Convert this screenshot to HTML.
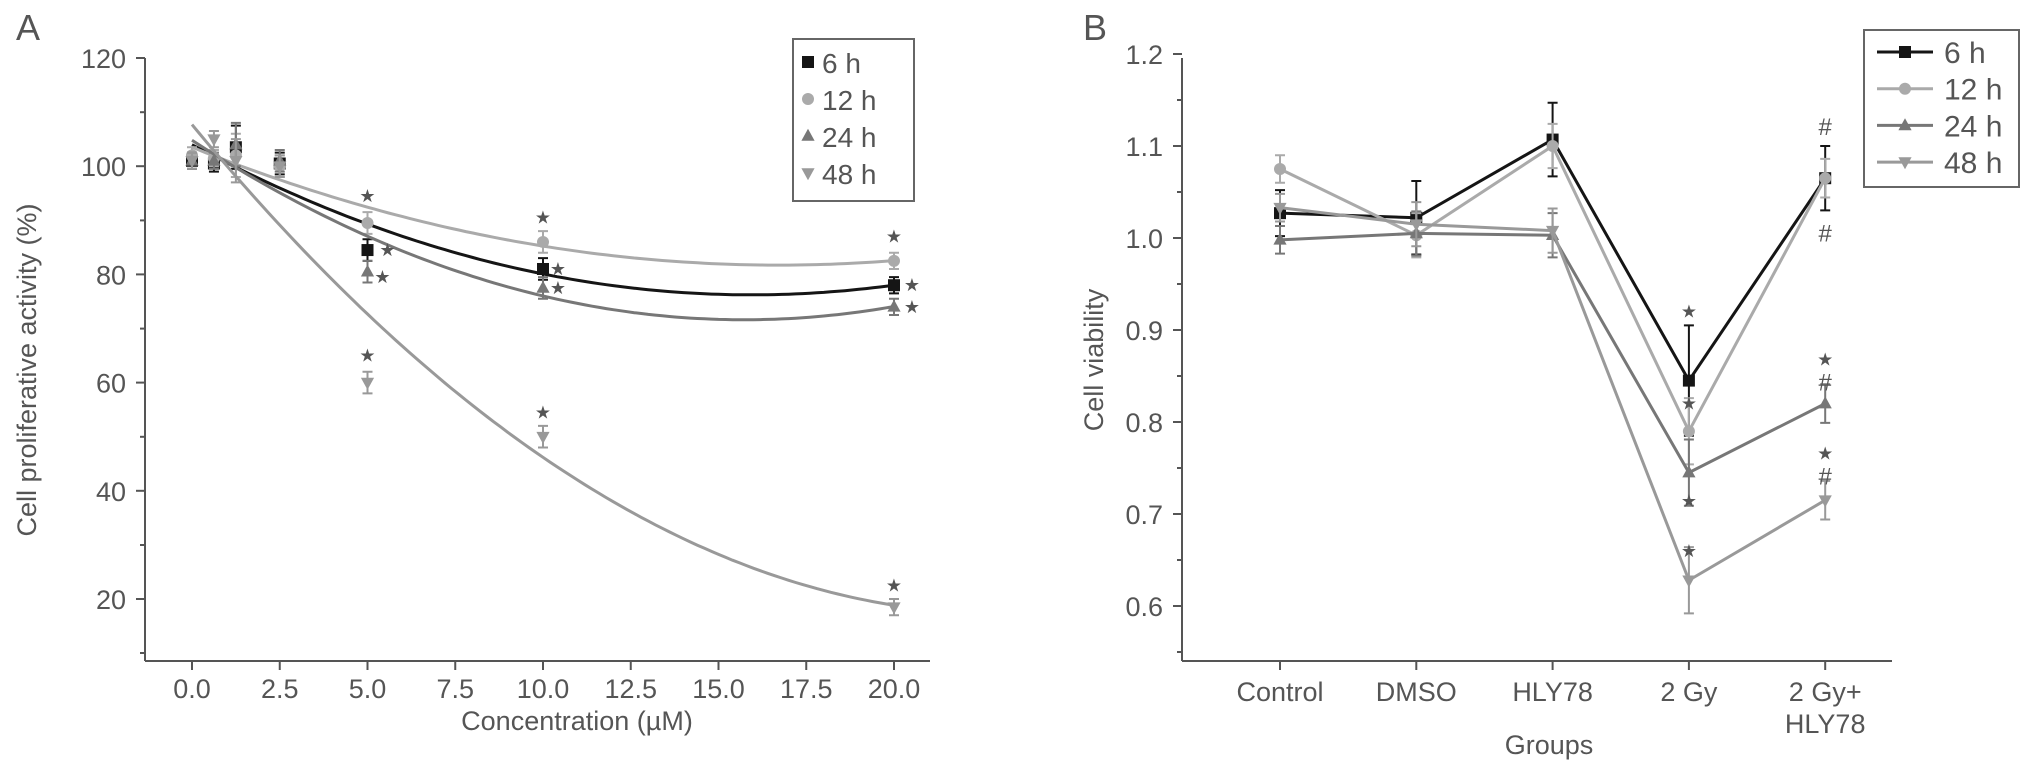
<!DOCTYPE html>
<html><head><meta charset="utf-8"><style>
body{margin:0;background:#fff;width:2032px;height:777px;overflow:hidden}
svg text{font-family:"Liberation Sans","DejaVu Sans",sans-serif;fill:#555}
</style></head><body>
<svg id="c" width="2032" height="777" xmlns="http://www.w3.org/2000/svg"></svg>
<script>
const concX=[0,0.625,1.25,2.5,5,10,20];
const a6=[101,100.5,103.5,100.5,84.5,81,78];
const a12=[102,101.5,102,100,89.5,86,82.5];
const a24=[101,101,104,101,80.5,77.5,74];
const a48=[101,105,101,100,60,50,18.5];
const aErr=[1.5,1.5,4,2,2,2,1.5];
const aXTicks=[0,2.5,5,7.5,10,12.5,15,17.5,20];
const aYTicks=[20,40,60,80,100,120];
const groups=["Control","DMSO","HLY78","2 Gy","2 Gy+HLY78"];
const b6=[1.027,1.022,1.107,0.845,1.065];
const b12=[1.075,1.003,1.100,0.790,1.065];
const b24=[0.998,1.005,1.003,0.745,0.820];
const b48=[1.033,1.015,1.008,0.628,0.715];
const bErr=[0.025,0.04,0.04,0.06,0.035];
const bYTicks=[0.6,0.7,0.8,0.9,1.0,1.1,1.2];
const series=["6 h","12 h","24 h","48 h"];
const cols=["#151515","#aaaaaa","#777777","#999999"];
const shapes=["sq","ci","tu","td"];

const S=document.getElementById('c');const NS="http://www.w3.org/2000/svg";
function el(t,at,p){const e=document.createElementNS(NS,t);for(const k in at)e.setAttribute(k,at[k]);(p||S).appendChild(e);return e;}
function txt(s,x,y,sz,anc,p){const e=el('text',{x:x,y:y,'font-size':sz,'text-anchor':anc||'middle'},p);e.textContent=s;return e;}
function star(x,y,p){const t=txt('\u2605',x,y+6,18,'middle',p);t.setAttribute('fill','#333');t.setAttribute('font-family','DejaVu Sans');return t;}
function hash(x,y,p){const t=txt('#',x,y+9,24,'middle',p);t.setAttribute('fill','#555');return t;}
function marker(sh,x,y,c,r,p){
 if(sh=='sq')return el('rect',{x:x-r,y:y-r,width:2*r,height:2*r,fill:c},p);
 if(sh=='ci')return el('circle',{cx:x,cy:y,r:r,fill:c},p);
 if(sh=='tu')return el('polygon',{points:`${x},${y-r*1.2} ${x-r*1.1},${y+r*0.8} ${x+r*1.1},${y+r*0.8}`,fill:c},p);
 return el('polygon',{points:`${x},${y+r*1.2} ${x-r*1.1},${y-r*0.8} ${x+r*1.1},${y-r*0.8}`,fill:c},p);
}
const ax='#555';
// ---- Panel A
const ax0=192,ax20=894;const AX=v=>ax0+(ax20-ax0)*v/20;
const AY=v=>599-(v-20)*5.41;
const gA=el('g',{},S);
txt('A',28,40,36,'middle',gA).setAttribute('fill','#222');
el('line',{x1:145,y1:58,x2:145,y2:661,stroke:ax,'stroke-width':2},gA);
el('line',{x1:145,y1:661,x2:930,y2:661,stroke:ax,'stroke-width':2},gA);
aYTicks.forEach(v=>{const y=AY(v);el('line',{x1:136,y1:y,x2:145,y2:y,stroke:ax,'stroke-width':2},gA);
 if(v<120)el('line',{x1:140,y1:y-54,x2:145,y2:y-54,stroke:ax,'stroke-width':2},gA);
 const t=txt(String(v),126,y+10,27,'end',gA);});
el('line',{x1:140,y1:AY(20)+54,x2:145,y2:AY(20)+54,stroke:ax,'stroke-width':2},gA);
aXTicks.forEach(v=>{const x=AX(v);el('line',{x1:x,y1:661,x2:x,y2:670,stroke:ax,'stroke-width':2},gA);
 const t=txt(v.toFixed(1),x,698,27,'middle',gA);});
let t=txt('Concentration (\u00b5M)',577,730,27,'middle',gA);
t=txt('Cell proliferative activity (%)',0,0,27,'middle',gA);t.setAttribute('transform','translate(36,370) rotate(-90)');

function quadFit(xs,ys){let n=xs.length,s=[0,0,0,0,0],r=[0,0,0];
 for(let i=0;i<n;i++){const x=xs[i];for(let k=0;k<5;k++)s[k]+=Math.pow(x,k);for(let k=0;k<3;k++)r[k]+=ys[i]*Math.pow(x,k);}
 const M=[[s[0],s[1],s[2],r[0]],[s[1],s[2],s[3],r[1]],[s[2],s[3],s[4],r[2]]];
 for(let i=0;i<3;i++){for(let j=i+1;j<3;j++){const f=M[j][i]/M[i][i];for(let k=i;k<4;k++)M[j][k]-=f*M[i][k];}}
 const c=[0,0,0];for(let i=2;i>=0;i--){let v=M[i][3];for(let k=i+1;k<3;k++)v-=M[i][k]*c[k];c[i]=v/M[i][i];}return c;}
[a6,a12,a24,a48].forEach((d,si)=>{
 const g=el('g',{},gA);
 const c=quadFit(concX,d);let p='';for(let i=0;i<=100;i++){const x=i/5;p+=(i?'L':'M')+AX(x).toFixed(1)+','+AY(c[0]+c[1]*x+c[2]*x*x).toFixed(1);}
 el('path',{d:p,fill:'none',stroke:cols[si],'stroke-width':3},g);
 d.forEach((v,i)=>{const x=AX(concX[i]),y=AY(v),e=aErr[i]*5.41;
  el('path',{d:`M${x},${y-e}V${y+e}M${x-5},${y-e}h10M${x-5},${y+e}h10`,stroke:cols[si],'stroke-width':2},g);
  const m=marker(shapes[si],x,y,cols[si],6,g);});
});
[[AX(5),AY(94.5)],[AX(10),AY(90.5)],[AX(5),AY(65)],[AX(10),AY(54.5)],[AX(20),AY(22.5)],[AX(20),AY(87)],
 [AX(5)+20,AY(84.5)],[AX(5)+15,AY(79.5)],[AX(10)+15,AY(81)],[AX(10)+15,AY(77.5)],[AX(20)+18,AY(78)],[AX(20)+18,AY(74)]].forEach(p=>star(p[0],p[1],gA));
function legend(x,y,w,h,p,name){const g=el('g',{},p);
 el('rect',{x:x,y:y,width:w,height:h,fill:'#fff',stroke:'#666','stroke-width':2},g);return g;}
const lA=legend(793,39,121,162,gA,'legend-a');
series.forEach((s,i)=>{const y=62+i*37;const e=el('g',{},lA);
 marker(shapes[i],808,y,cols[i],6,e);txt(s,822,y+11,28,'start',e);});
// ---- Panel B
const BX=i=>1280+i*136.3;const BY=v=>238-(v-1.0)*920;
const gB=el('g',{},S);
txt('B',1095,40,36,'middle',gB).setAttribute('fill','#222');
el('line',{x1:1182,y1:58,x2:1182,y2:661,stroke:ax,'stroke-width':2},gB);
el('line',{x1:1182,y1:661,x2:1892,y2:661,stroke:ax,'stroke-width':2},gB);
bYTicks.forEach(v=>{const y=BY(v);el('line',{x1:1173,y1:y,x2:1182,y2:y,stroke:ax,'stroke-width':2},gB);
 el('line',{x1:1177,y1:y+46,x2:1182,y2:y+46,stroke:ax,'stroke-width':2},gB);
 const t=txt(v.toFixed(1),1163,y+10,27,'end',gB);});
groups.forEach((g,i)=>{const x=BX(i);el('line',{x1:x,y1:661,x2:x,y2:670,stroke:ax,'stroke-width':2},gB);
 const parts=g=="2 Gy+HLY78"?["2 Gy+","HLY78"]:[g];
 parts.forEach((s,k)=>{const t=txt(s,x,701+k*32,27,'middle',gB);});});
t=txt('Groups',1549,754,27,'middle',gB);
t=txt('Cell viability',0,0,27,'middle',gB);t.setAttribute('transform','translate(1103,360) rotate(-90)');
[b6,b12,b24,b48].forEach((d,si)=>{
 const g=el('g',{},gB);
 el('polyline',{points:d.map((v,i)=>BX(i)+','+BY(v)).join(' '),fill:'none',stroke:cols[si],'stroke-width':3},g);
 d.forEach((v,i)=>{const x=BX(i),y=BY(v),e=bErr[i]*920*(si==0?1:0.6);
  el('path',{d:`M${x},${y-e}V${y+e}M${x-5},${y-e}h10M${x-5},${y+e}h10`,stroke:cols[si],'stroke-width':2},g);
  const m=marker(shapes[si],x,y,cols[si],6,g);});
});
[[3,0.920],[3,0.820],[3,0.714],[3,0.660],[4,0.868],[4,0.766]].forEach(a=>star(BX(a[0]),BY(a[1]),gB));
[[4,1.122],[4,1.006],[4,0.844],[4,0.742]].forEach(a=>hash(BX(a[0]),BY(a[1]),gB));
const lB=legend(1864,30,155,157,gB,'legend-b');
series.forEach((s,i)=>{const y=52+i*36.7;const e=el('g',{},lB);
 el('line',{x1:1877,y1:y,x2:1933,y2:y,stroke:cols[i],'stroke-width':3},e);marker(shapes[i],1905,y,cols[i],6,e);txt(s,1944,y+11,30,'start',e);});
</script>
</body></html>
